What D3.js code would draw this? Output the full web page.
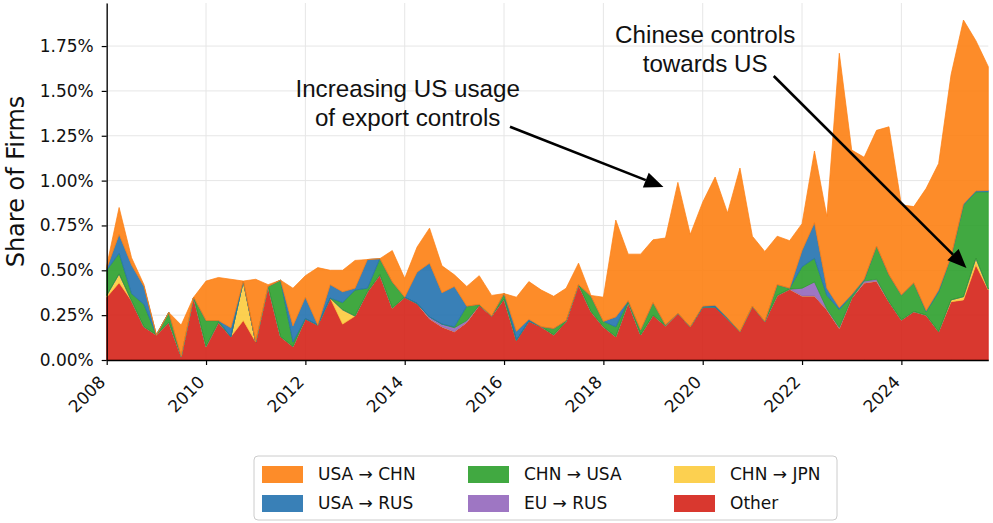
<!DOCTYPE html>
<html>
<head>
<meta charset="utf-8">
<script src="https://cdn.jsdelivr.net/npm/d3@7"></script>
<style>
	body { margin: 0; background: #fff; }
	svg { display: block; }
	.tick text { font-family: "DejaVu Sans", sans-serif; font-size: 17px; fill: #111; }
</style>
</head>
<body>
<div id="myArea"></div>
<script>
// quarterly data, first point 2008 Q1
var startYear = 2008;
var nQuarters = 72;

var seriesNames = ['Other', 'CHN → JPN', 'EU → RUS', 'CHN → USA', 'USA → RUS', 'USA → CHN'];
var seriesColors = ['#d52218', '#fccb3d', '#9467bd', '#2ca02c', '#2472af', '#fd7f12'];

// values in percent of firms
var other = [.35,.43,.33,.185,.14,.21,.02,.35,.075,.21,.13,.22,.10,.41,.13,.075,.23,.195,.345,.20,
	.245,.38,.475,.29,.35,.315,.23,.185,.158,.21,.305,.245,.34,.11,.217,.185,.14,.215,.42,.27,
	.185,.13,.32,.14,.25,.19,.26,.185,.295,.295,.23,.158,.30,.215,.36,.395,.357,.357,.28,.177,
	.345,.43,.44,.325,.223,.27,.25,.158,.325,.335,.53,.39];
var chnJpn = [.01,.05,0,0,0,0,0,0,0,0,0,.22,0,0,0,0,0,0,0,.08,
	0,0,0,0,0,0,0,0,0,0,0,0,0,0,0,0,0,0,0,0,
	0,0,0,0,0,0,0,0,0,0,0,0,0,0,0,0,0,0,0,0,
	0,0,0,0,0,0,0,0,.01,.018,.037,.005];
var euRus = [0,0,0,0,0,0,0,0,0,0,0,0,0,0,0,0,0,0,0,0,
	0,0,0,0,0,0,.01,.015,.022,.01,0,0,0,0,0,0,0,0,0,0,
	0,0,0,0,0,0,0,0,0,0,0,0,0,0,0,0,.043,.078,.005,.005,
	0,.01,.01,0,0,0,0,0,0,0,0,0];
var chnUsa = [.14,.115,.04,.125,0,.055,0,0,.145,.01,0,0,0,0,.315,.025,0,0,0,.04,
	.145,.02,.09,.145,0,0,0,0,.005,.08,.005,0,.03,0,0,0,.035,.005,0,.085,
	.03,.055,.01,.027,.07,.005,0,0,0,0,0,0,0,0,.06,.005,.12,.132,.075,.10,
	.015,.005,.185,.15,.139,.16,.02,.222,.241,.511,.371,.543];
var usaRus = [.01,.105,.16,.10,0,0,0,0,0,0,.05,0,0,0,0,.09,.12,0,.075,.06,
	.01,.16,0,0,0,.175,.30,.175,.225,0,0,0,0,.05,.01,0,0,0,0,0,
	0,.055,0,0,0,0,0,0,.005,.01,.005,0,0,0,0,0,.09,.198,.04,.01,
	.005,.005,0,0,0,0,.005,.01,0,.005,.005,.007];
var usaChn = [.015,.15,.04,.01,0,0,.175,0,.22,.24,.27,0,.35,.01,0,.21,.12,.32,.08,.12,
	.155,0,0,.175,.105,.14,.195,.15,.065,.11,.16,.115,0,.19,.21,.205,.18,.18,.12,.005,
	.135,.54,.26,.423,.35,.485,.73,.515,.58,.715,.585,.912,.39,.39,.27,.265,.15,.40,.40,1.418,
	.805,.68,.645,.825,.503,.425,.682,.705,1.014,1.026,.837,.69];

var yearTicks = [2008, 2010, 2012, 2014, 2016, 2018, 2020, 2022, 2024];
var pctTicks = [0, .25, .5, .75, 1, 1.25, 1.5, 1.75];

function plotArea() {
	var width = 993, height = 523;
	var x0 = 106.7, x1 = 988.3, yTop = 3, yBottom = 360;

	var svg = d3.select('#myArea')
		.append('svg')
		.attr('width', width)
		.attr('height', height);

	var rows = d3.range(nQuarters).map(function(i) {
		return {
			t: startYear + i / 4,
			'Other': other[i],
			'CHN → JPN': chnJpn[i],
			'EU → RUS': euRus[i],
			'CHN → USA': chnUsa[i],
			'USA → RUS': usaRus[i],
			'USA → CHN': usaChn[i]
		};
	});

	var x = d3.scaleLinear()
		.domain([startYear, startYear + (nQuarters - 1) / 4])
		.range([x0, x1]);
	var y = d3.scaleLinear()
		.domain([0, 1.99])
		.range([yBottom, yTop]);

	// grid
	var grid = svg.append('g');
	grid.selectAll('.vgrid')
		.data(yearTicks)
		.enter().append('line')
		.attr('x1', function(d) { return x(d); })
		.attr('x2', function(d) { return x(d); })
		.attr('y1', yTop)
		.attr('y2', yBottom)
		.attr('stroke', '#e6e6e6')
		.attr('stroke-width', 1);
	grid.selectAll('.hgrid')
		.data(pctTicks)
		.enter().append('line')
		.attr('x1', x0)
		.attr('x2', x1)
		.attr('y1', function(d) { return y(d); })
		.attr('y2', function(d) { return y(d); })
		.attr('stroke', '#e6e6e6')
		.attr('stroke-width', 1);

	var stack = d3.stack().keys(seriesNames);
	var layers = stack(rows);

	var area = d3.area()
		.x(function(d) { return x(d.data.t); })
		.y0(function(d) { return y(d[0]); })
		.y1(function(d) { return y(d[1]); });

	svg.append('g').selectAll('path')
		.data(layers)
		.enter().append('path')
		.attr('d', area)
		.attr('fill', function(d, i) { return seriesColors[i]; })
		.attr('fill-opacity', 0.9)
		.attr('stroke', function(d, i) { return seriesColors[i]; })
		.attr('stroke-opacity', 0.9)
		.attr('stroke-width', 0.8)
		.attr('stroke-linejoin', 'round');

	// axes
	var xAxis = svg.append('g')
		.attr('transform', 'translate(0,' + yBottom + ')')
		.call(d3.axisBottom(x).tickValues(yearTicks).tickFormat(d3.format('d')).tickSize(5).tickSizeOuter(0));
	xAxis.select('.domain').attr('stroke', '#000').attr('stroke-width', 1.3);
	xAxis.selectAll('.tick line').attr('stroke', '#000').attr('stroke-width', 1.2);
	xAxis.selectAll('.tick text')
		.attr('x', 0)
		.attr('y', 0)
		.attr('text-anchor', 'end')
		.attr('dy', '0.35em')
		.attr('transform', 'translate(-5,19) rotate(-45)');

	var yAxis = svg.append('g')
		.attr('transform', 'translate(' + x0 + ',0)')
		.call(d3.axisLeft(y).tickValues(pctTicks)
			.tickFormat(function(d) { return d3.format('.2f')(d) + '%'; })
			.tickSize(5).tickSizeOuter(0).tickPadding(8));
	yAxis.select('.domain').attr('stroke', '#000').attr('stroke-width', 1.3);
	yAxis.selectAll('.tick line').attr('stroke', '#000').attr('stroke-width', 1.2);

	svg.append('text')
		.attr('transform', 'translate(24,' + ((yTop + yBottom) / 2) + ') rotate(-90)')
		.attr('text-anchor', 'middle')
		.attr('font-family', 'DejaVu Sans, sans-serif')
		.attr('font-size', 24)
		.attr('fill', '#111')
		.text('Share of Firms');

	// annotations
	var notes = [
		{ lines: ['Increasing US usage', 'of export controls'], tx: 2014.06, ty: 1.466,
			from: [2016.12, 1.30], to: [2019.21, 0.964] },
		{ lines: ['Chinese controls', 'towards US'], tx: 2020.05, ty: 1.765,
			from: [2021.43, 1.583], to: [2025.31, 0.513] }
	];
	notes.forEach(function(n) {
		var t = svg.append('text')
			.attr('text-anchor', 'middle')
			.attr('font-family', 'Liberation Sans, Arial, sans-serif')
			.attr('font-size', 24.2)
			.attr('fill', '#111');
		n.lines.forEach(function(l, i) {
			t.append('tspan')
				.attr('x', x(n.tx))
				.attr('y', y(n.ty) + i * 29)
				.text(l);
		});
		var ax = x(n.from[0]), ay = y(n.from[1]);
		var bx = x(n.to[0]), by = y(n.to[1]);
		var ang = Math.atan2(by - ay, bx - ax);
		var headLen = 19, headW = 8;
		var hx = bx - headLen * Math.cos(ang), hy = by - headLen * Math.sin(ang);
		svg.append('line')
			.attr('x1', ax).attr('y1', ay)
			.attr('x2', hx).attr('y2', hy)
			.attr('stroke', '#000')
			.attr('stroke-width', 2.6);
		var pts = [
			[bx, by],
			[hx + headW * Math.sin(ang), hy - headW * Math.cos(ang)],
			[hx - headW * Math.sin(ang), hy + headW * Math.cos(ang)]
		];
		svg.append('polygon')
			.attr('points', pts.map(function(p) { return p.join(','); }).join(' '))
			.attr('fill', '#000');
	});

	// legend
	var legendOrder = [5, 4, 3, 2, 1, 0];
	var lg = svg.append('g').attr('transform', 'translate(254,456)');
	lg.append('rect')
		.attr('width', 583)
		.attr('height', 64)
		.attr('rx', 4)
		.attr('fill', '#fff')
		.attr('stroke', '#cccccc')
		.attr('stroke-width', 1);
	legendOrder.forEach(function(si, j) {
		var col = Math.floor(j / 2), row = j % 2;
		var g = lg.append('g')
			.attr('transform', 'translate(' + (8 + col * 206) + ',' + (18 + row * 29) + ')');
		g.append('rect')
			.attr('x', 0).attr('y', -8)
			.attr('width', 41).attr('height', 17)
			.attr('fill', seriesColors[si])
			.attr('fill-opacity', 0.9);
		g.append('text')
			.attr('x', 56)
			.attr('y', 0)
			.attr('dy', '0.35em')
			.attr('font-family', 'DejaVu Sans, sans-serif')
			.attr('font-size', 17)
			.attr('fill', '#111')
			.text(seriesNames[si]);
	});
}

plotArea();
</script>
</body>
</html>
